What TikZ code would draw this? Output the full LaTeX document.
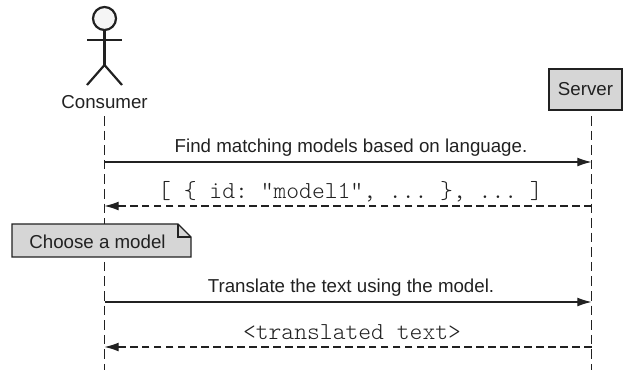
\documentclass[tikz,border=0pt]{standalone}
\usepackage{fontspec}
\setmainfont{Liberation Sans}
\setmonofont{Latin Modern Mono Light}
\usetikzlibrary{arrows.meta}
\definecolor{boxgray}{gray}{0.84}
\definecolor{inkgray}{gray}{0.13}
\tikzset{
	lifeline/.style={draw=inkgray, line width=0.45pt, dash pattern=on 5.5pt off 2.8pt},
	callmsg/.style={draw=inkgray, line width=0.6pt, -{Latex[length=8pt,width=5pt]}},
	replymsg/.style={draw=inkgray, line width=0.6pt, dash pattern=on 4.4pt off 2.4pt, -{Latex[length=8pt,width=5pt]}},
	limb/.style={draw=inkgray, line width=1.25pt},
	txt/.style={text=inkgray, font=\fontsize{10.65}{12}\selectfont, inner sep=0pt},
	codetxt/.style={text=inkgray, font=\fontsize{13.9}{14}\selectfont\ttfamily, inner sep=0pt},
}
\begin{document}
\begin{tikzpicture}[x=0.02cm, y=-0.02cm]
	%%%%% FRAME %%%%%
	\useasboundingbox (0, 0) rectangle (623, 370);

	%%%%% CONSUMER %%%%%
	\draw[limb, fill=black!4] (104.5, 18.5) circle (11.5);
	\draw[limb] (104.5, 30) -- (104.5, 65);
	\draw[limb] (87, 40) -- (122, 40);
	\draw[limb] (87, 85) -- (104.5, 65) -- (122, 85);
	\node[txt] (consumer) at (104.5, 102) {Consumer};

	%%%%% SERVER %%%%%
	\node[draw=inkgray, line width=0.7pt, fill=boxgray, minimum width=1.46cm, minimum height=0.82cm, inner sep=0pt, text=inkgray, font=\fontsize{10.65}{12}\selectfont] (server) at (585.5, 89.5) {Server};

	%%%%% LIFELINES %%%%%
	\coordinate (c0) at (104.5, 116);
	\coordinate (c1) at (104.5, 162);
	\coordinate (c2) at (104.5, 206);
	\coordinate (c3) at (104.5, 302);
	\coordinate (c4) at (104.5, 347);
	\coordinate (c5) at (104.5, 370);
	\coordinate (s0) at (591.5, 116);
	\coordinate (s1) at (591.5, 162);
	\coordinate (s2) at (591.5, 206);
	\coordinate (s3) at (591.5, 302);
	\coordinate (s4) at (591.5, 347);
	\coordinate (s5) at (591.5, 370);
	\draw[lifeline] (c0) -- (c5);
	\draw[lifeline] (s0) -- (s5);

	%%%%% MESSAGES %%%%%
	\draw[callmsg] (c1) -- (s1);
	\node[txt] (find) at (351, 148) {Find matching models based on language.};

	\draw[replymsg] (s2) -- (c2);
	\node[codetxt] (reply) at (350.5, 192) {[ \{ id: "model1", ... \}, ... ]};

	\draw[callmsg] (c3) -- (s3);
	\node[txt] (translate) at (351, 288) {Translate the text using the model.};

	\draw[replymsg] (s4) -- (c4);
	\node[codetxt] (result) at (352, 332) {<translated text>};

	%%%%% NOTE %%%%%
	\draw[draw=inkgray, line width=0.7pt, fill=boxgray] (12, 224) -- (178, 224) -- (191, 237) -- (191, 257) -- (12, 257) -- cycle;
	\draw[draw=inkgray, line width=0.7pt] (178, 224) -- (178, 237) -- (191, 237);
	\node[txt] (note) at (97.5, 242) {Choose a model};
\end{tikzpicture}
\end{document}
